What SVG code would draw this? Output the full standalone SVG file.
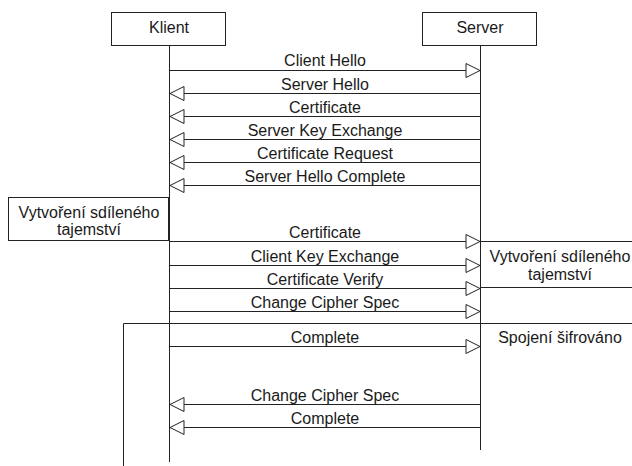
<svg xmlns="http://www.w3.org/2000/svg" width="632" height="466" viewBox="0 0 632 466">
<style>
.box{fill:#fff;stroke:#222;stroke-width:1}
.ln{stroke:#222;stroke-width:1;fill:none}
.ah{fill:#fff;stroke:#222;stroke-width:1}
text{font-family:"Liberation Sans",Arial,sans-serif;font-size:16px;fill:#1a1a1a}
.c{text-anchor:middle}
</style>
<defs>
<polygon id="ar" class="ah" points="-14,-7 0,0 -14,7"/>
<polygon id="al" class="ah" points="14,-7 0,0 14,7"/>
</defs>
<rect width="632" height="466" fill="#fff"/>
<g id="big-frame">
<polyline class="ln" points="123.5,466 123.5,323.5 632,323.5"/>
</g>
<g id="lifelines">
<line class="ln" x1="169.5" y1="45" x2="169.5" y2="462"/>
<line class="ln" x1="480.5" y1="45" x2="480.5" y2="450"/>
</g>
<g id="klient">
<rect class="box" x="111.5" y="12.5" width="114" height="33"/>
<text class="c" x="169" y="33">Klient</text>
</g>
<g id="server">
<rect class="box" x="422.5" y="12.5" width="114" height="33"/>
<text class="c" x="480" y="33">Server</text>
</g>
<g id="klient-secret">
<rect class="box" x="8.5" y="197.5" width="160" height="43"/>
<text class="c" x="89" y="218">Vytvoření sdíleného</text>
<text class="c" x="89" y="235">tajemství</text>
</g>
<g id="server-secret">
<polyline class="ln" points="632,241.5 480.5,241.5"/>
<polyline class="ln" points="632,287.5 480.5,287.5"/>
<text class="c" x="560" y="262">Vytvoření sdíleného</text>
<text class="c" x="560" y="280">tajemství</text>
</g>
<g id="encrypted">
<text class="c" x="560" y="343">Spojení šifrováno</text>
</g>
<g id="connectors">
<line class="ln" x1="169.5" y1="70.5" x2="466" y2="70.5"/><use href="#ar" x="480" y="70.5"/>
<line class="ln" x1="183" y1="93.5" x2="480.5" y2="93.5"/><use href="#al" x="170" y="93.5"/>
<line class="ln" x1="183" y1="116.5" x2="480.5" y2="116.5"/><use href="#al" x="170" y="116.5"/>
<line class="ln" x1="183" y1="139.5" x2="480.5" y2="139.5"/><use href="#al" x="170" y="139.5"/>
<line class="ln" x1="183" y1="162.5" x2="480.5" y2="162.5"/><use href="#al" x="170" y="162.5"/>
<line class="ln" x1="183" y1="185.5" x2="480.5" y2="185.5"/><use href="#al" x="170" y="185.5"/>
<line class="ln" x1="169.5" y1="241.5" x2="466" y2="241.5"/><use href="#ar" x="480" y="241.5"/>
<line class="ln" x1="169.5" y1="265.5" x2="466" y2="265.5"/><use href="#ar" x="480" y="265.5"/>
<line class="ln" x1="169.5" y1="288.5" x2="466" y2="288.5"/><use href="#ar" x="480" y="288.5"/>
<line class="ln" x1="169.5" y1="311.5" x2="466" y2="311.5"/><use href="#ar" x="480" y="311.5"/>
<line class="ln" x1="169.5" y1="346.5" x2="466" y2="346.5"/><use href="#ar" x="480" y="346.5"/>
<line class="ln" x1="183" y1="404.5" x2="480.5" y2="404.5"/><use href="#al" x="170" y="404.5"/>
<line class="ln" x1="183" y1="427.5" x2="480.5" y2="427.5"/><use href="#al" x="170" y="427.5"/>
</g>
<g id="labels">
<text class="c" x="325" y="66">Client Hello</text>
<text class="c" x="325" y="90">Server Hello</text>
<text class="c" x="325" y="113">Certificate</text>
<text class="c" x="325" y="136">Server Key Exchange</text>
<text class="c" x="325" y="159">Certificate Request</text>
<text class="c" x="325" y="182">Server Hello Complete</text>
<text class="c" x="325" y="238">Certificate</text>
<text class="c" x="325" y="262">Client Key Exchange</text>
<text class="c" x="325" y="285">Certificate Verify</text>
<text class="c" x="325" y="308">Change Cipher Spec</text>
<text class="c" x="325" y="343">Complete</text>
<text class="c" x="325" y="401">Change Cipher Spec</text>
<text class="c" x="325" y="424">Complete</text>
</g>
</svg>
